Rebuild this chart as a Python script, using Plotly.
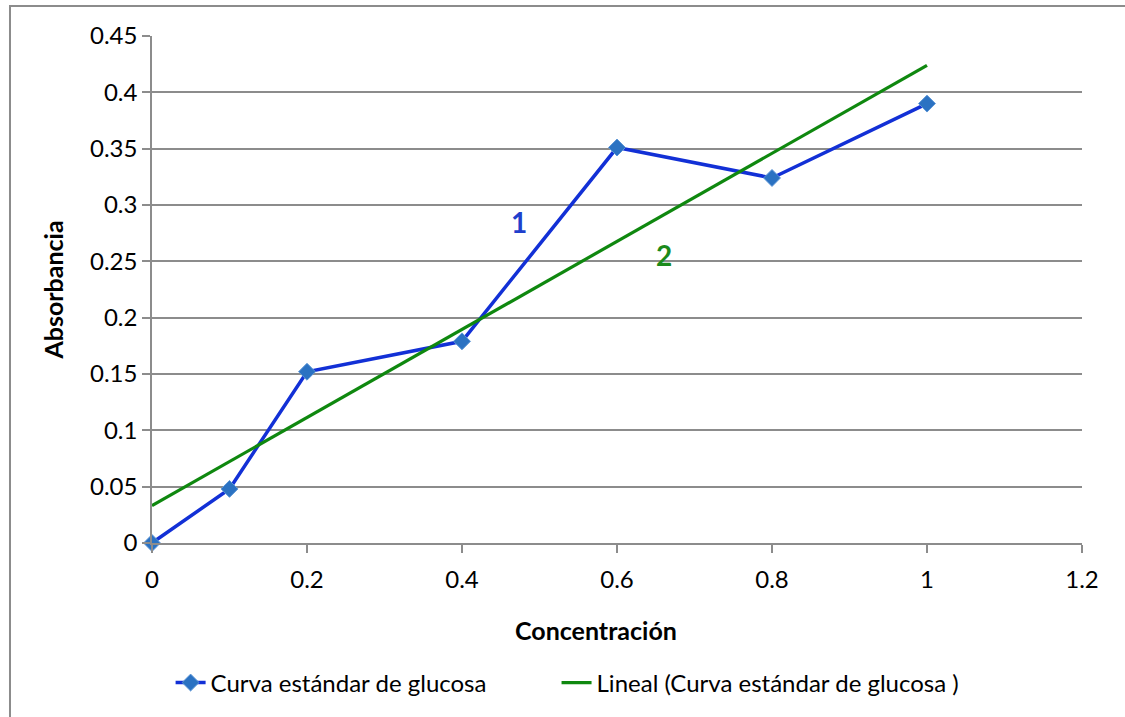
import numpy as np
import plotly.graph_objects as go

# Glucose standard curve readings
concentracion = [0, 0.1, 0.2, 0.4, 0.6, 0.8, 1.0]
absorbancia = [0.0, 0.048, 0.152, 0.179, 0.351, 0.324, 0.390]

x_ticks = [0, 0.2, 0.4, 0.6, 0.8, 1.0, 1.2]
x_tick_text = ["0", "0.2", "0.4", "0.6", "0.8", "1", "1.2"]
y_ticks = [0, 0.05, 0.1, 0.15, 0.2, 0.25, 0.3, 0.35, 0.4, 0.45]
y_tick_text = ["0", "0.05", "0.1", "0.15", "0.2", "0.25", "0.3", "0.35", "0.4", "0.45"]

series_name = "Curva estándar de glucosa"
trend_name = "Lineal (Curva estándar de glucosa )"

# Least-squares linear trendline over the measured range
slope, intercept = np.polyfit(concentracion, absorbancia, 1)
trend_x = [min(concentracion), max(concentracion)]
trend_y = [intercept + slope * v for v in trend_x]

FONT = "Lato"
GRID = "#8c8c8c"
BLUE = "#1230d6"
GREEN = "#0f880f"

fig = go.Figure()
fig.add_trace(go.Scatter(
    x=concentracion, y=absorbancia, mode="lines+markers", name=series_name,
    line=dict(color=BLUE, width=3.5),
    marker=dict(symbol="diamond", size=13, color="#2b72c2",
                line=dict(color="#5b95d6", width=1)),
    cliponaxis=False,
    legend="legend",
))
fig.add_trace(go.Scatter(
    x=trend_x, y=trend_y, mode="lines", name=trend_name,
    line=dict(color=GREEN, width=3.2),
    legend="legend2",
))

fig.add_annotation(x=0.4735, y=0.285, text="<b>1</b>", showarrow=False,
                   font=dict(family=FONT, size=28, color="#1f3fcc"))
fig.add_annotation(x=0.6606, y=0.2556, text="<b>2</b>", showarrow=False,
                   font=dict(family=FONT, size=28, color="#1b8a1b"))

# Horizontal axis title
fig.add_annotation(xref="paper", yref="paper", x=0.4774, y=-0.1716,
                   text="<b>Concentración</b>", showarrow=False,
                   xanchor="center", yanchor="middle",
                   font=dict(family=FONT, size=25, color="black"))

# Chart-area border (top and left edges visible)
fig.add_shape(type="rect", xref="paper", yref="paper",
              x0=-0.1527, y0=-0.6, x1=1.3, y1=1.0592,
              line=dict(color=GRID, width=2), layer="below")

legend_font = dict(family=FONT, size=24, color="black")

fig.update_layout(
    width=1125, height=717,
    margin=dict(l=152, r=43, t=36, b=174),
    paper_bgcolor="white", plot_bgcolor="white",
    font=dict(family=FONT, size=23, color="black"),
    showlegend=True,
    legend=dict(orientation="h", x=0.02, xanchor="left", y=-0.276, yanchor="middle",
                font=legend_font),
    legend2=dict(orientation="h", x=0.435, xanchor="left", y=-0.276, yanchor="middle",
                 font=legend_font),
    xaxis=dict(
        range=[0, 1.2], tickvals=x_ticks, ticktext=x_tick_text,
        showgrid=False, zeroline=False,
        showline=True, linecolor=GRID, linewidth=1.5,
        ticks="outside", ticklen=8, tickcolor=GRID, tickwidth=1.5,
        ticklabelstandoff=6,
        tickfont=dict(family=FONT, size=24),
    ),
    yaxis=dict(
        range=[0, 0.45], tickvals=y_ticks, ticktext=y_tick_text,
        showgrid=True, gridcolor=GRID, gridwidth=1.5, zeroline=False,
        showline=True, linecolor=GRID, linewidth=1.5,
        ticks="outside", ticklen=8, tickcolor=GRID, tickwidth=1.5,
        tickfont=dict(family=FONT, size=24),
        title=dict(text="<b>Absorbancia</b>", standoff=19,
                   font=dict(family=FONT, size=25)),
    ),
)

fig.write_html("out.html")
